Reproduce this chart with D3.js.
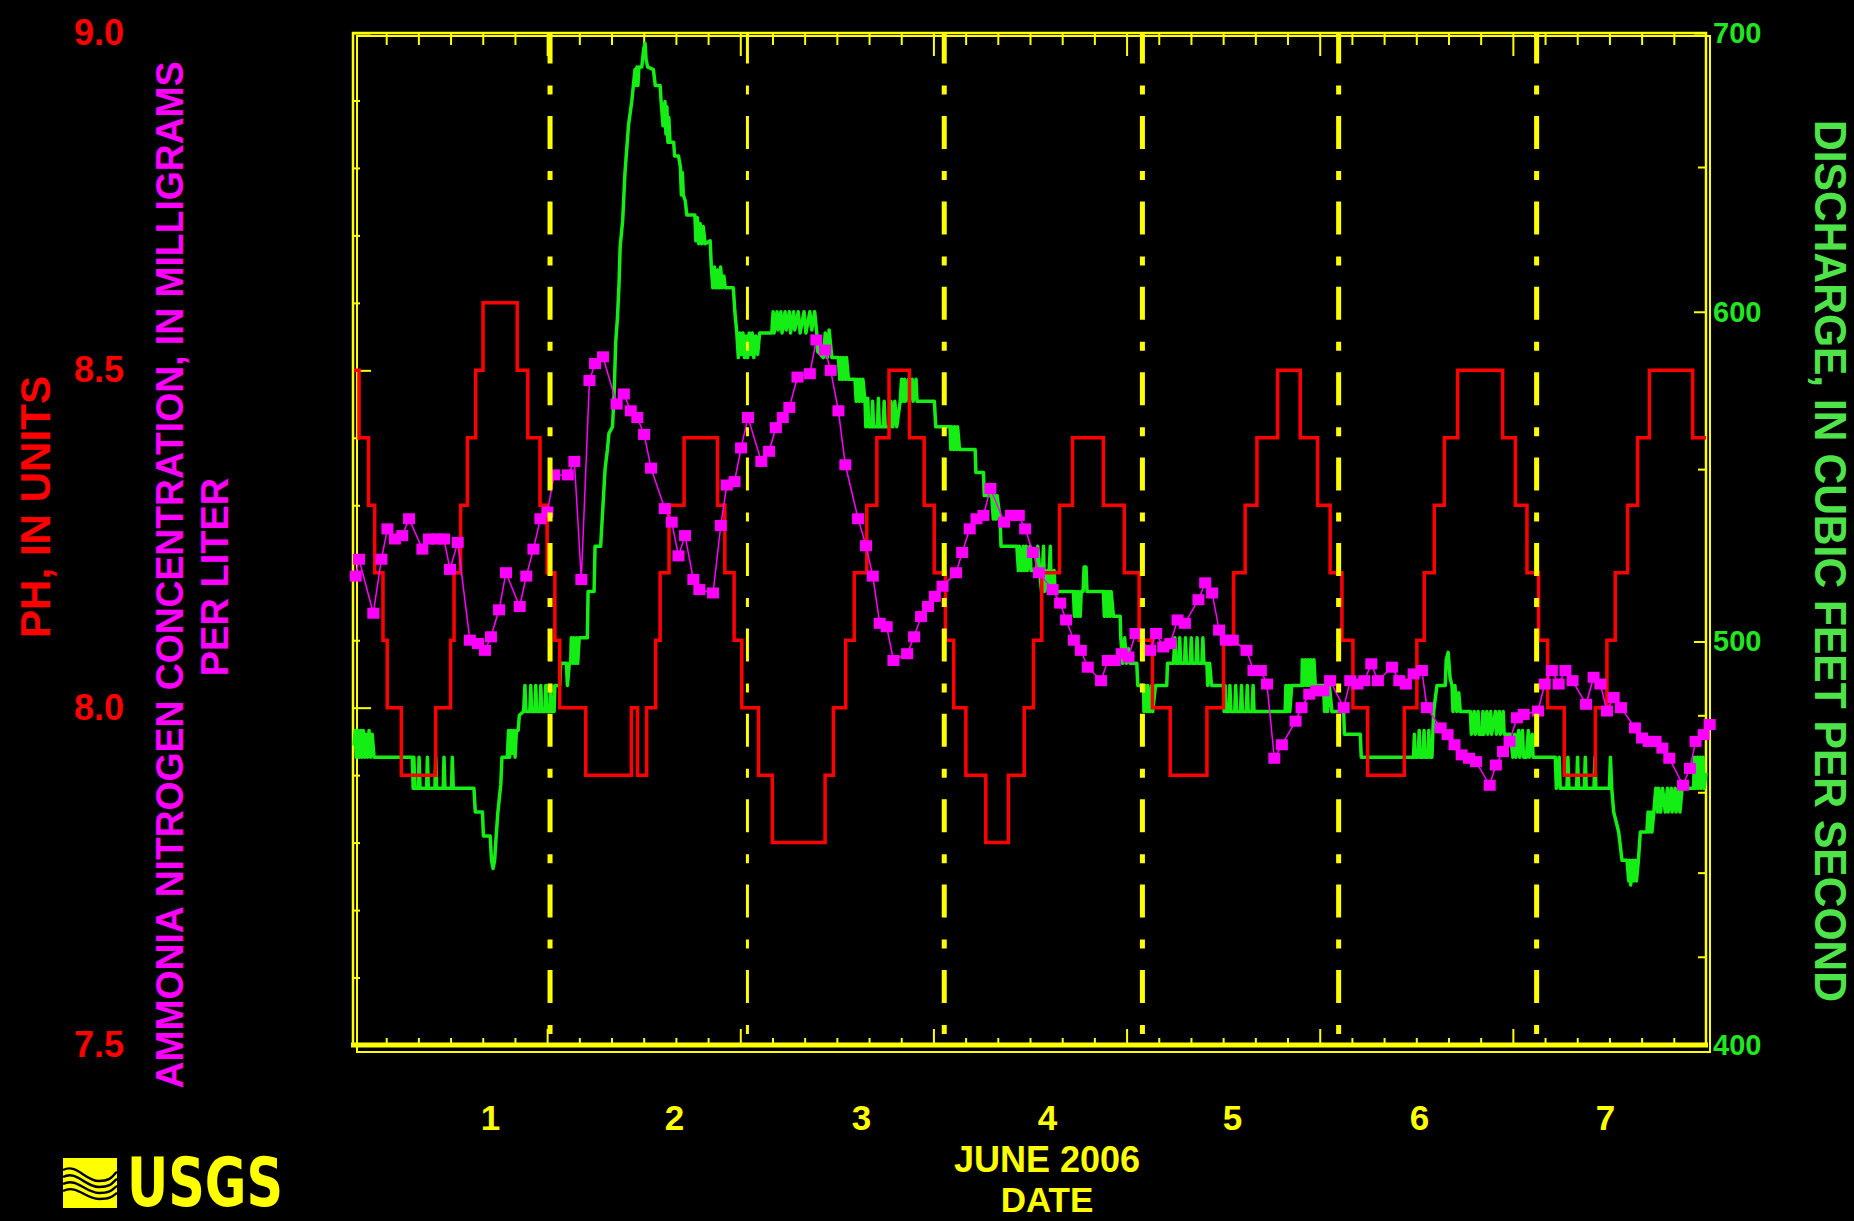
<!DOCTYPE html>
<html><head><meta charset="utf-8">
<script src="https://cdn.jsdelivr.net/npm/d3@7"></script>
<style>body{margin:0;background:#000}svg{display:block}</style>
</head><body><svg id="c" width="1854" height="1221"></svg>
<script>
// ---------- DATA ----------
// time = days since 2006-06-01 00:00
const dayLabels = ["1","2","3","4","5","6","7"];
const dayLabelPos = [0.704,1.657,2.625,3.588,4.546,5.514,6.477];
const dashedLines = [1.015,2.037,3.056,4.082,5.098,6.123];
const phLabelTicks = [7.5,8.0,8.5,9.0];
const phLabels = ["7.5","8.0","8.5","9.0"];
const phMinorTicks = [7.6,7.7,7.8,7.9,8.1,8.2,8.3,8.4,8.6,8.7,8.8,8.9];
const qLabelTicks = [400,500,600,700];
const qLabels = ["400","500","600","700"];
const qMinorTicks = [420,440,460,480,550,650];

// pH, in units (step changes: [time, value from that time])
const phSteps = [
[0.000,8.5],[0.026,8.4],[0.075,8.3],[0.107,8.2],[0.150,8.1],[0.172,8.0],[0.245,7.9],
[0.423,8.0],[0.500,8.1],[0.518,8.2],[0.552,8.3],[0.587,8.4],[0.630,8.5],[0.668,8.6],
[0.845,8.5],[0.900,8.4],[0.963,8.3],[1.000,8.2],[1.040,8.1],[1.065,8.0],[1.200,7.9],
[1.436,8.0],[1.468,7.9],[1.515,8.0],[1.562,8.1],[1.585,8.2],[1.631,8.3],[1.709,8.4],
[1.882,8.3],[1.920,8.2],[1.968,8.1],[2.008,8.0],[2.094,7.9],[2.166,7.8],
[2.439,7.9],[2.482,8.0],[2.546,8.1],[2.590,8.2],[2.655,8.3],[2.707,8.4],[2.770,8.5],
[2.876,8.4],[2.952,8.3],[3.004,8.2],[3.062,8.1],[3.105,8.0],[3.168,7.9],[3.271,7.8],
[3.388,7.9],[3.470,8.0],[3.518,8.1],[3.561,8.2],[3.653,8.3],[3.720,8.4],
[3.880,8.3],[3.988,8.2],[4.065,8.1],[4.134,8.0],[4.226,7.9],[4.416,8.0],[4.502,8.1],
[4.554,8.2],[4.614,8.3],[4.675,8.4],[4.782,8.5],[4.899,8.4],[4.989,8.3],[5.054,8.2],
[5.115,8.1],[5.172,8.0],[5.248,7.9],[5.438,8.0],[5.503,8.1],[5.541,8.2],[5.593,8.3],
[5.645,8.4],[5.714,8.5],[5.947,8.4],[6.013,8.3],[6.073,8.2],[6.133,8.1],[6.180,8.0],
[6.266,7.9],[6.427,8.0],[6.487,8.1],[6.530,8.2],[6.594,8.3],[6.646,8.4],[6.707,8.5],
[6.931,8.4],[7.000,8.4]
];

// Discharge, cubic feet per second
const discharge = [
[0.000,472],[0.006,476],[0.012,469],[0.020,476],[0.026,469],[0.034,476],[0.040,469],[0.048,476],[0.055,469],[0.062,475],[0.070,469],[0.078,476],[0.086,469],[0.094,475],[0.104,469],
[0.302,469],[0.306,461],[0.310,469],[0.315,461],[0.333,461],[0.337,469],[0.342,461],[0.376,461],[0.380,469],[0.385,461],[0.419,461],[0.423,469],[0.428,461],[0.462,461],[0.466,469],[0.471,461],[0.505,461],[0.509,469],[0.514,461],
[0.621,461],[0.628,455],[0.665,455],[0.670,449],[0.705,449],[0.712,443],[0.720,441],[0.728,443],[0.736,449],[0.745,455],[0.760,462],[0.766,469],
[0.794,469],[0.800,476],[0.806,469],[0.813,476],[0.820,470],[0.827,476],[0.834,469],[0.841,476],[0.850,476],[0.856,480],[0.878,481],
[0.885,488],[0.890,481],[0.910,481],[0.915,488],[0.920,481],[0.937,481],[0.941,488],[0.946,481],[0.963,481],[0.967,488],[0.972,481],[0.989,481],[0.993,488],[0.998,481],[1.014,481],[1.018,488],[1.023,481],[1.036,481],[1.040,488],[1.065,488],[1.070,494],[1.100,494],[1.105,488],[1.115,494],[1.122,494],
[1.125,501],[1.130,494],[1.138,501],[1.144,494],[1.152,501],[1.158,494],[1.166,501],[1.174,501],[1.208,501],[1.212,514],[1.243,514],[1.248,527],[1.277,527],[1.290,540],[1.300,550],[1.312,556],[1.320,561],[1.338,563],[1.346,572],[1.355,590],[1.364,598],[1.372,609],[1.378,622],[1.391,631],[1.403,648],[1.421,665],[1.438,674],[1.455,686],[1.460,680],[1.465,687],[1.470,680],[1.475,687],[1.490,687],[1.500,694],[1.507,696],[1.512,690],[1.520,687],[1.550,686],[1.560,680],[1.585,680],[1.590,674],[1.600,665],[1.610,674],[1.615,662],[1.620,672],[1.625,659],[1.630,668],[1.636,659],[1.655,659],[1.660,654],[1.680,654],[1.690,650],[1.695,640],[1.700,648],[1.705,640],[1.715,638],[1.723,633],[1.765,633],[1.770,624],[1.778,632],[1.785,623],[1.792,630],[1.800,623],[1.808,629],[1.818,623],[1.844,624],[1.850,615],[1.858,608],[1.866,615],[1.874,608],[1.882,614],[1.890,608],[1.898,615],[1.906,608],[1.915,612],[1.922,608],[1.964,608],[1.972,600],[1.982,593],[1.990,585],[1.998,593],[2.006,586],[2.014,593],[2.022,585],[2.030,592],[2.038,585],[2.046,593],[2.054,586],[2.062,593],[2.070,585],[2.080,592],[2.090,586],[2.100,593],[2.163,593],[2.170,600],[2.175,593],[2.190,600],[2.196,594],[2.210,600],[2.216,593],[2.232,600],[2.238,594],[2.254,600],[2.260,593],[2.276,600],[2.282,594],[2.300,600],[2.310,593],[2.330,600],[2.340,593],[2.360,600],[2.370,594],[2.385,600],[2.396,593],[2.400,587],[2.430,585],[2.440,593],[2.450,585],[2.460,594],[2.474,585],[2.508,585],[2.515,578],[2.520,585],[2.530,578],[2.535,585],[2.545,578],[2.550,585],[2.560,578],[2.594,578],[2.600,571],[2.605,578],[2.615,571],[2.620,578],[2.630,571],[2.635,578],[2.646,571],[2.650,563],[2.660,572],[2.665,563],[2.680,563],[2.685,571],[2.690,563],[2.710,563],[2.715,572],[2.720,563],[2.740,563],[2.745,571],[2.750,563],[2.776,563],[2.780,571],[2.790,563],[2.800,571],[2.810,563],[2.828,571],[2.835,578],[2.840,571],[2.850,578],[2.855,571],[2.870,578],[2.875,571],[2.890,578],[2.895,571],[2.910,578],[2.915,571],[3.005,571],[3.012,563],[3.086,563],[3.090,556],[3.095,563],[3.105,556],[3.110,563],[3.120,556],[3.125,563],[3.135,556],[3.216,556],[3.220,549],[3.259,549],[3.263,542],[3.302,542],[3.310,535],[3.315,542],[3.325,535],[3.330,542],[3.345,535],[3.350,527],[3.432,527],[3.440,520],[3.445,527],[3.455,520],[3.465,527],[3.470,520],[3.480,527],[3.485,520],[3.500,527],[3.505,520],[3.535,520],[3.540,527],[3.550,520],[3.560,514],[3.570,527],[3.575,514],[3.590,520],[3.595,514],[3.605,527],[3.610,514],[3.625,520],[3.630,514],[3.725,514],[3.730,507],[3.735,514],[3.745,507],[3.750,514],[3.760,507],[3.765,514],[3.775,514],[3.780,521],[3.790,521],[3.795,514],[3.880,514],[3.885,507],[3.890,514],[3.900,507],[3.905,514],[3.915,507],[3.920,514],[3.932,507],[3.967,507],[3.970,501],[3.980,494],[3.990,501],[4.000,494],[4.010,498],[4.019,494],[4.053,494],[4.058,488],[4.088,488],[4.090,481],[4.095,488],[4.105,481],[4.110,488],[4.120,481],[4.130,488],[4.135,481],[4.150,488],[4.208,488],[4.212,494],[4.243,494],[4.250,501],[4.255,494],[4.270,494],[4.275,501],[4.280,494],[4.300,494],[4.305,501],[4.310,494],[4.330,494],[4.335,501],[4.340,494],[4.360,494],[4.365,501],[4.370,494],[4.390,494],[4.395,501],[4.400,494],[4.416,494],[4.420,488],[4.430,494],[4.440,488],[4.502,488],[4.505,481],[4.510,488],[4.515,481],[4.530,481],[4.535,488],[4.540,481],[4.560,481],[4.565,488],[4.570,481],[4.590,481],[4.595,488],[4.600,481],[4.620,481],[4.625,488],[4.630,481],[4.650,481],[4.655,488],[4.660,481],[4.821,481],[4.825,488],[4.830,481],[4.840,488],[4.845,481],[4.855,488],[4.908,488],[4.910,495],[4.915,488],[4.925,495],[4.930,488],[4.940,495],[4.945,488],[4.955,495],[4.960,488],[4.970,495],[4.977,488],[5.020,488],[5.025,481],[5.030,488],[5.040,481],[5.050,488],[5.063,481],[5.124,481],[5.128,475],[5.210,475],[5.215,469],[5.486,469],[5.490,475],[5.495,469],[5.510,469],[5.515,476],[5.520,469],[5.535,469],[5.540,476],[5.545,469],[5.560,469],[5.565,476],[5.570,469],[5.581,469],[5.590,481],[5.607,488],[5.650,488],[5.655,495],[5.665,497],[5.675,490],[5.685,488],[5.690,481],[5.700,488],[5.710,481],[5.720,486],[5.728,481],[5.780,481],[5.785,475],[5.800,481],[5.805,475],[5.820,481],[5.825,475],[5.840,475],[5.845,481],[5.850,475],[5.865,481],[5.870,475],[5.885,481],[5.890,475],[5.910,481],[5.915,475],[5.930,481],[5.935,475],[5.950,481],[5.955,475],[5.987,475],[6.000,469],[6.010,475],[6.015,469],[6.030,476],[6.035,469],[6.050,476],[6.055,469],[6.070,469],[6.080,476],[6.085,469],[6.100,475],[6.105,469],[6.220,469],[6.225,461],[6.240,469],[6.245,461],[6.280,461],[6.285,469],[6.290,461],[6.330,461],[6.335,469],[6.340,461],[6.370,461],[6.375,469],[6.380,461],[6.420,461],[6.425,469],[6.430,461],[6.500,461],[6.505,469],[6.512,461],[6.522,455],[6.548,450],[6.565,443],[6.591,443],[6.600,438],[6.605,443],[6.610,437],[6.620,443],[6.625,438],[6.635,443],[6.640,438],[6.650,443],[6.660,450],[6.694,450],[6.700,455],[6.705,450],[6.715,455],[6.720,450],[6.730,455],[6.740,461],[6.750,455],[6.755,461],[6.765,455],[6.775,461],[6.789,455],[6.800,461],[6.805,455],[6.820,461],[6.825,455],[6.840,461],[6.845,455],[6.860,461],[6.865,455],[6.876,461],[6.936,461],[6.940,469],[6.945,461],[6.955,469],[6.960,461],[6.970,469],[6.975,461],[6.985,469],[6.990,461],[7.000,465]
];

// Ammonia nitrogen, mg/L
const ammonia = [
[0.009,0.139],[0.026,0.144],[0.100,0.128],[0.142,0.144],[0.173,0.153],[0.212,0.150],[0.250,0.151],[0.285,0.156],[0.354,0.147],[0.388,0.150],[0.428,0.150],[0.466,0.150],[0.497,0.141],[0.537,0.149],[0.600,0.120],[0.642,0.119],[0.678,0.117],[0.709,0.121],[0.751,0.129],[0.787,0.140],[0.858,0.130],[0.892,0.139],[0.929,0.147],[0.965,0.156],[1.001,0.158],[1.036,0.169],[1.107,0.169],[1.141,0.173],[1.177,0.138],[1.219,0.197],[1.248,0.202],[1.289,0.204],[1.360,0.190],[1.397,0.193],[1.433,0.188],[1.467,0.186],[1.502,0.181],[1.538,0.171],[1.609,0.159],[1.645,0.155],[1.680,0.145],[1.714,0.151],[1.757,0.138],[1.788,0.135],[1.859,0.134],[1.899,0.154],[1.930,0.166],[1.970,0.167],[2.004,0.177],[2.040,0.186],[2.109,0.173],[2.149,0.176],[2.184,0.183],[2.220,0.186],[2.254,0.189],[2.296,0.198],[2.360,0.199],[2.394,0.209],[2.439,0.206],[2.468,0.200],[2.508,0.188],[2.544,0.172],[2.610,0.156],[2.651,0.148],[2.686,0.139],[2.722,0.125],[2.758,0.124],[2.793,0.114],[2.864,0.116],[2.900,0.121],[2.936,0.127],[2.972,0.130],[3.007,0.133],[3.047,0.136],[3.117,0.140],[3.149,0.146],[3.188,0.153],[3.223,0.156],[3.259,0.157],[3.295,0.165],[3.366,0.155],[3.402,0.157],[3.442,0.157],[3.475,0.153],[3.515,0.146],[3.546,0.140],[3.617,0.135],[3.656,0.131],[3.687,0.126],[3.727,0.120],[3.763,0.117],[3.799,0.112],[3.868,0.108],[3.903,0.114],[3.939,0.114],[3.975,0.116],[4.010,0.115],[4.046,0.122],[4.122,0.117],[4.153,0.122],[4.190,0.118],[4.226,0.119],[4.264,0.126],[4.302,0.125],[4.372,0.132],[4.407,0.137],[4.443,0.134],[4.479,0.123],[4.514,0.120],[4.550,0.120],[4.621,0.117],[4.657,0.111],[4.695,0.111],[4.727,0.107],[4.765,0.085],[4.804,0.089],[4.875,0.096],[4.906,0.100],[4.946,0.104],[4.982,0.105],[5.020,0.105],[5.054,0.108],[5.124,0.100],[5.158,0.108],[5.196,0.107],[5.231,0.108],[5.267,0.113],[5.301,0.108],[5.374,0.112],[5.412,0.108],[5.446,0.107],[5.486,0.110],[5.529,0.111],[5.555,0.100],[5.626,0.094],[5.662,0.092],[5.698,0.089],[5.735,0.086],[5.773,0.085],[5.809,0.084],[5.880,0.077],[5.912,0.083],[5.949,0.087],[5.983,0.090],[6.021,0.097],[6.056,0.098],[6.130,0.099],[6.165,0.107],[6.202,0.111],[6.237,0.107],[6.272,0.111],[6.309,0.108],[6.379,0.101],[6.418,0.109],[6.453,0.107],[6.487,0.099],[6.522,0.103],[6.560,0.100],[6.632,0.094],[6.669,0.091],[6.703,0.090],[6.739,0.090],[6.774,0.088],[6.810,0.085],[6.881,0.077],[6.917,0.082],[6.946,0.090],[6.988,0.092],[7.019,0.095]
];

// ---------- DRAWING ----------
const svg = d3.select("#c");
const W = 1854, H = 1221;
const L = 354, R = 1706, T = 33, B = 1045;
const YEL = "#ffff00", RED = "#ff0000", MAG = "#ff00ff", GRN = "#14ee14";
const FONT = "'Liberation Sans', Arial, Helvetica, sans-serif";

svg.append("rect").attr("width", W).attr("height", H).attr("fill", "#000");

const x = d3.scaleLinear().domain([0, 7]).range([L, R]);
const yPH = d3.scaleLinear().domain([7.5, 9.0]).range([B, T]);
const yQ = d3.scaleLog().domain([400, 700]).range([B, T]);
const yN = d3.scaleLinear().domain([0, 0.3]).range([B, T]);

// frame (double line)
svg.append("rect").attr("x", L - 1).attr("y", T).attr("width", R - L + 1).attr("height", B - T)
  .attr("fill", "none").attr("stroke", YEL).attr("stroke-width", 2.5);
svg.append("rect").attr("x", L + 3).attr("y", T + 3).attr("width", R - L + 1).attr("height", B - T + 4)
  .attr("fill", "none").attr("stroke", YEL).attr("stroke-width", 2);
svg.append("line").attr("x1", L - 3).attr("x2", R + 2).attr("y1", B).attr("y2", B)
  .attr("stroke", YEL).attr("stroke-width", 5);

function styleAxis(g, color, size) {
  g.select(".domain").remove();
  g.selectAll(".tick line").attr("stroke", YEL).attr("stroke-width", 2);
  g.selectAll(".tick text").attr("fill", color).attr("font-family", FONT)
    .attr("font-weight", "bold").attr("font-size", size);
}

const fourHours = d3.range(0, 43).map(i => i / 6).filter(v => v > 0 && v < 7 && Math.abs(v - Math.round(v)) > 1e-6);
const dayBounds = d3.range(1, 7);

// top ticks
svg.append("g").attr("transform", `translate(0,${T})`)
  .call(d3.axisTop(x).tickValues(fourHours).tickSize(-12).tickFormat(""))
  .call(g => styleAxis(g, YEL, 10));
svg.append("g").attr("transform", `translate(0,${T})`)
  .call(d3.axisTop(x).tickValues(dayBounds).tickSize(-23).tickFormat(""))
  .call(g => styleAxis(g, YEL, 10));
// bottom ticks
svg.append("g").attr("transform", `translate(0,${B})`)
  .call(d3.axisBottom(x).tickValues(fourHours).tickSize(-7).tickFormat(""))
  .call(g => styleAxis(g, YEL, 10));
svg.append("g").attr("transform", `translate(0,${B})`)
  .call(d3.axisBottom(x).tickValues(dayBounds).tickSize(-16).tickFormat(""))
  .call(g => styleAxis(g, YEL, 10));
// day labels
svg.append("g").attr("transform", `translate(0,${B})`)
  .call(d3.axisBottom(x).tickValues(dayLabelPos).tickSize(0).tickPadding(60)
    .tickFormat((d, i) => dayLabels[i]))
  .call(g => styleAxis(g, YEL, 35));

// left pH axis
svg.append("g").attr("transform", `translate(${L},0)`)
  .call(d3.axisLeft(yPH).tickValues(phMinorTicks).tickSize(-6).tickFormat(""))
  .call(g => styleAxis(g, RED, 10));
svg.append("g").attr("transform", `translate(${L},0)`)
  .call(d3.axisLeft(yPH).tickValues(phLabelTicks).tickSize(-17).tickPadding(L - 124)
    .tickFormat((d, i) => phLabels[i]))
  .call(g => styleAxis(g, RED, 36));

// right discharge axis (log)
svg.append("g").attr("transform", `translate(${R},0)`)
  .call(d3.axisRight(yQ).tickValues(qMinorTicks).tickSize(-8).tickFormat(""))
  .call(g => styleAxis(g, GRN, 10));
svg.append("g").attr("transform", `translate(${R},0)`)
  .call(d3.axisRight(yQ).tickValues(qLabelTicks).tickSize(-12).tickPadding(7)
    .tickFormat((d, i) => qLabels[i]))
  .call(g => styleAxis(g, "#22e622", 29));

// discharge line
svg.append("path").datum(discharge)
  .attr("d", d3.line().x(d => x(d[0])).y(d => yQ(d[1])))
  .attr("fill", "none").attr("stroke", GRN).attr("stroke-width", 3.5).attr("stroke-linejoin", "round");

// pH step line
svg.append("path").datum(phSteps)
  .attr("d", d3.line().curve(d3.curveStepAfter).x(d => x(d[0])).y(d => yPH(d[1])))
  .attr("fill", "none").attr("stroke", RED).attr("stroke-width", 3.5);

// ammonia line + square markers
svg.append("path").datum(ammonia)
  .attr("d", d3.line().x(d => x(d[0])).y(d => yN(d[1])))
  .attr("fill", "none").attr("stroke", MAG).attr("stroke-width", 1.5);
svg.append("g").selectAll("rect").data(ammonia).join("rect")
  .attr("x", d => x(d[0]) - 6).attr("y", d => yN(d[1]) - 5.5)
  .attr("width", 12).attr("height", 11).attr("fill", MAG);

// dashed day-division lines
svg.append("g").selectAll("line").data(dashedLines).join("line")
  .attr("x1", d => x(d)).attr("x2", d => x(d)).attr("y1", T).attr("y2", B)
  .attr("stroke", YEL).attr("stroke-width", (d, i) => i === 1 ? 3 : 5)
  .attr("stroke-dasharray", "33,22,9,21.4").attr("stroke-dashoffset", 2.4);

// axis titles
svg.append("text").attr("transform", "translate(50,507) rotate(-90)")
  .attr("text-anchor", "middle").attr("fill", RED).attr("font-family", FONT)
  .attr("font-weight", "bold").attr("font-size", 42)
  .attr("textLength", 262).attr("lengthAdjust", "spacingAndGlyphs")
  .text("PH, IN UNITS");
svg.append("text").attr("transform", "translate(183,575) rotate(-90)")
  .attr("text-anchor", "middle").attr("fill", MAG).attr("font-family", FONT)
  .attr("font-weight", "bold").attr("font-size", 38)
  .attr("textLength", 1027).attr("lengthAdjust", "spacingAndGlyphs")
  .text("AMMONIA NITROGEN CONCENTRATION, IN MILLIGRAMS");
svg.append("text").attr("transform", "translate(228,577) rotate(-90)")
  .attr("text-anchor", "middle").attr("fill", MAG).attr("font-family", FONT)
  .attr("font-weight", "bold").attr("font-size", 38)
  .text("PER LITER");
svg.append("text").attr("transform", "translate(1815,561) rotate(90)")
  .attr("text-anchor", "middle").attr("fill", "#4fe34a").attr("font-family", FONT)
  .attr("font-weight", "bold").attr("font-size", 44)
  .attr("textLength", 882).attr("lengthAdjust", "spacingAndGlyphs")
  .text("DISCHARGE, IN CUBIC FEET PER SECOND");
svg.append("text").attr("x", 1047).attr("y", 1172).attr("text-anchor", "middle")
  .attr("fill", YEL).attr("font-family", FONT).attr("font-weight", "bold").attr("font-size", 36)
  .text("JUNE 2006");
svg.append("text").attr("x", 1047).attr("y", 1212).attr("text-anchor", "middle")
  .attr("fill", YEL).attr("font-family", FONT).attr("font-weight", "bold").attr("font-size", 35)
  .text("DATE");

// USGS logo
const logo = svg.append("g").attr("transform", "translate(63,1158)");
logo.append("rect").attr("width", 54).attr("height", 50).attr("fill", YEL);
[0, 1, 2, 3].forEach(k => {
  logo.append("path")
    .attr("d", `M0,${12 + k * 7} C14,${5 + k * 7} 22,${23 + k * 6} 36,${23 + k * 6} S50,${16 + k * 7} 54,${14 + k * 7}`)
    .attr("fill", "none").attr("stroke", "#000").attr("stroke-width", 2.4);
});
svg.append("text").attr("x", 127).attr("y", 1206)
  .attr("fill", YEL).attr("font-family", "'Liberation Sans Narrow','DejaVu Sans Condensed','Liberation Sans',sans-serif")
  .attr("font-weight", "bold").attr("font-size", 68)
  .attr("textLength", 156).attr("lengthAdjust", "spacingAndGlyphs")
  .text("USGS");
</script>
</body></html>
